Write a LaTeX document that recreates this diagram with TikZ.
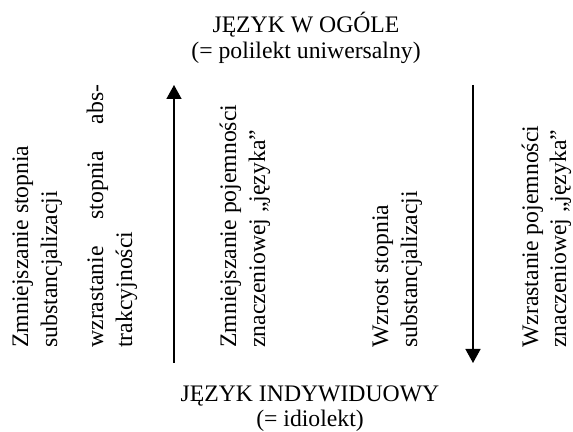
\documentclass[tikz,border=0pt]{standalone}
\usepackage{fontspec}
\setmainfont{Liberation Serif}
\usetikzlibrary{arrows.meta}

\tikzset{
  lbl/.style={inner sep=0pt,font=\fontsize{11.85pt}{14pt}\selectfont},
  upright/.style={lbl,anchor=base},
  vert/.style={lbl,rotate=90,anchor=base west},
  arr/.style={line width=0.75pt,-{Triangle[width=7.5pt,length=7pt]}}
}

\begin{document}
\begin{tikzpicture}[x=0.5pt,y=-0.5pt]
\useasboundingbox (0,0) rectangle (573,432);
% top and bottom
\node[upright] (top1) at (306,33) {JĘZYK W OGÓLE};
\node[upright] (top2) at (306,59) {(= polilekt uniwersalny)};
\node[upright] (bot1) at (310,402) {JĘZYK INDYWIDUOWY};
\node[upright] (bot2) at (310,427) {(= idiolekt)};
% vertical texts
\node[vert] (a1) at (28,348)  {Zmniejszanie stopnia};
\node[vert] (a2) at (57,348)  {substancjalizacji};
\node[vert] (b1) at (103,348) {\makebox[131.5pt][s]{wzrastanie stopnia abs-}};
\node[vert] (b2) at (132,348) {trakcyjności};
\node[vert] (c1) at (236,348) {Zmniejszanie pojemności};
\node[vert] (c2) at (265,348) {znaczeniowej „języka”};
\node[vert] (d1) at (388,348) {Wzrost stopnia};
\node[vert] (d2) at (417,348) {substancjalizacji};
\node[vert] (e1) at (538,348) {Wzrastanie pojemności};
\node[vert] (e2) at (566,348) {znaczeniowej „języka”};
% arrows
\coordinate (upS) at (174,363);
\coordinate (upE) at (174,85);
\coordinate (dnS) at (473,85);
\coordinate (dnE) at (473,363);
\draw[arr] (upS) -- (upE);
\draw[arr] (dnS) -- (dnE);
\end{tikzpicture}
\end{document}
